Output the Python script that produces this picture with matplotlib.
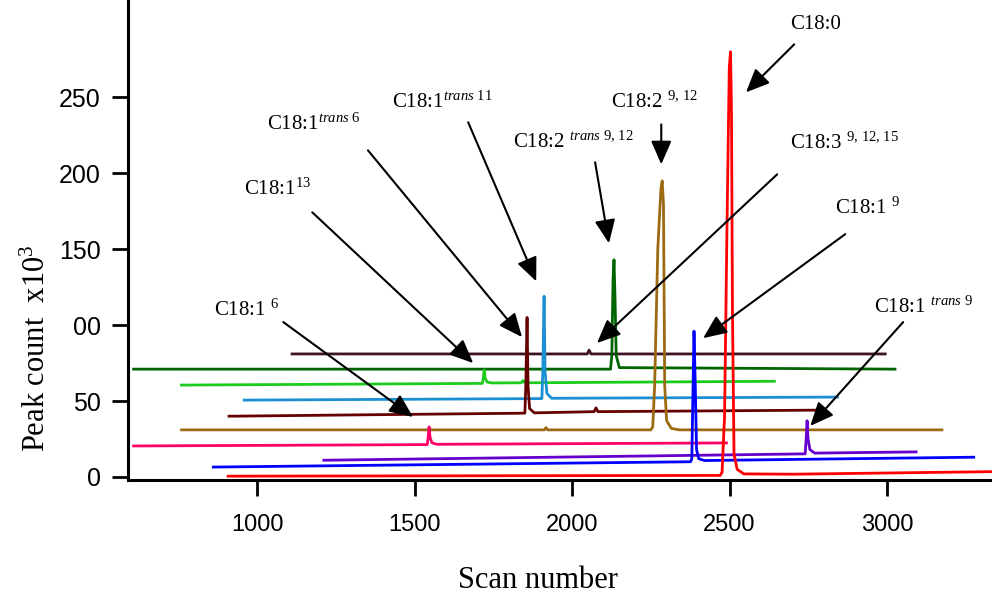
import matplotlib
matplotlib.use('Agg')
import matplotlib.pyplot as plt

plt.rcParams['mathtext.fontset'] = 'custom'
plt.rcParams['mathtext.rm'] = 'Liberation Serif'
plt.rcParams['mathtext.it'] = 'Liberation Serif:italic'

# Chromatogram traces (scan number, peak count x10^3)
red_x = [908, 2470, 2476, 2484, 2492, 2499, 2503, 2506, 2509, 2514, 2524, 2545, 2700, 3340]
red_y = [0.5, 1.0, 3, 40, 170, 270, 280, 240, 110, 15, 5, 2.0, 1.8, 3.5]

blue_x = [861, 2376, 2380, 2384, 2387, 2391, 2395, 2402, 2420, 3275]
blue_y = [6.5, 10.0, 12, 60, 96, 60, 18, 12, 10.8, 13]

purple_x = [1212, 2740, 2743, 2746, 2749, 2755, 2770, 3092]
purple_y = [11, 15.2, 25, 37, 25, 18, 15.7, 16.5]

pink_x = [608, 1540, 1543, 1546, 1549, 1555, 1570, 2490]
pink_y = [20.4, 21.3, 26, 33, 26, 22.5, 21.5, 22.4]

brown_x = [760, 1912, 1917, 1922, 2250, 2256, 2262, 2272, 2282, 2286, 2290, 2294, 2300, 2315, 2340, 3174]
brown_y = [31, 31, 32.5, 31, 31, 33, 60, 150, 190, 195, 180, 60, 37, 32, 31, 31]

maroon_x = [911, 1850, 1853, 1857, 1860, 1865, 1880, 2070, 2076, 2082, 2788]
maroon_y = [40, 42, 60, 105, 60, 45, 42.2, 43, 45.5, 43, 44]

ltblue_x = [959, 1904, 1907, 1911, 1914, 1920, 1935, 2842]
ltblue_y = [50.6, 51.6, 70, 119, 70, 55, 51.8, 52.6]

green_x = [760, 1715, 1718, 1721, 1724, 1730, 1745, 1838, 1844, 1850, 2642]
green_y = [60.5, 61.6, 65, 70.5, 65, 62.5, 61.9, 62.0, 63.5, 62.0, 63]

dkgreen_x = [608, 2122, 2126, 2130, 2133, 2136, 2140, 2150, 3025]
dkgreen_y = [71, 71, 80, 130, 143, 120, 80, 72, 71]

dark_x = [1111, 2048, 2054, 2060, 2994]
dark_y = [81, 81, 83.5, 81, 81]

traces = [
    (dark_x, dark_y, '#3d1426'),
    (dkgreen_x, dkgreen_y, '#006400'),
    (green_x, green_y, '#1ccc1c'),
    (ltblue_x, ltblue_y, '#1b8fd2'),
    (maroon_x, maroon_y, '#660000'),
    (brown_x, brown_y, '#9c6a12'),
    (pink_x, pink_y, '#ff0066'),
    (purple_x, purple_y, '#6600cc'),
    (blue_x, blue_y, '#0000ff'),
    (red_x, red_y, '#ff0000'),
]

# Peak labels: text, text anchor (left, baseline), arrow start, arrow tip
labels = [
    (r'C18:0', (2692, 294.7), (2705, 284.9), (2552, 253.3)),
    (r'C18:2 $^{\text{9, 12}}$', (2124, 243.4), (2283, 232.2), (2283, 205.9)),
    (r'C18:2 $^{\mathit{trans}\text{ 9, 12}}$', (1813, 217.1), (2073, 207.2), (2117, 153.9)),
    (r'C18:1$^{\mathit{trans}\text{ 11}}$', (1429, 243.4), (1670, 233.6), (1886, 128.9)),
    (r'C18:1$^{\mathit{trans}\text{ 6}}$', (1032, 228.9), (1352, 215.1), (1841, 92.1)),
    (r'C18:1$^{13}$', (959, 185.5), (1175, 174.3), (1686, 75.0)),
    (r'C18:1 $^{6}$', (863, 105.9), (1083, 102.0), (1495, 39.5)),
    (r'C18:3 $^{\text{9, 12, 15}}$', (2692, 216.4), (2651, 199.3), (2079, 88.2)),
    (r'C18:1 $^{9}$', (2835, 173.0), (2867, 159.9), (2416, 91.4)),
    (r'C18:1 $^{\mathit{trans}\text{ 9}}$', (2959, 107.9), (3051, 102.0), (2756, 33.6)),
]

x_ticks = [1000, 1500, 2000, 2500, 3000]
y_ticks = [0, 50, 100, 150, 200, 250]
y_tick_labels = ['0', '50', '00', '150', '200', '250']

fig = plt.figure(figsize=(9.92, 6.02), dpi=100)
ax = fig.add_axes([0.129, 0.2027, 0.871, 0.797])

for xs, ys, c in traces:
    ax.plot(xs, ys, color=c, linewidth=2.0, solid_joinstyle='round')

for text, (tx, ty), start, tip in labels:
    ax.text(tx, ty, text, fontsize=15, family='Liberation Serif',
            ha='left', va='baseline')
    ax.annotate('', xy=tip, xytext=start,
                arrowprops=dict(arrowstyle='-|>,head_length=0.8,head_width=0.35',
                                mutation_scale=18, color='black', lw=1.5,
                                shrinkA=0, shrinkB=0))

ax.set_xlim(590, 3333)
ax.set_ylim(-2, 314)
ax.set_xticks(x_ticks)
ax.set_xticklabels([str(t) for t in x_ticks], family='Liberation Sans', fontsize=17)
ax.set_yticks(y_ticks)
ax.set_yticklabels(y_tick_labels, family='Liberation Sans', fontsize=18)
ax.tick_params(axis='y', direction='out', length=11.5, width=2, pad=8)
ax.tick_params(axis='x', direction='out', length=11.5, width=2, pad=13)

for side in ['top', 'right']:
    ax.spines[side].set_visible(False)
for side in ['left', 'bottom']:
    ax.spines[side].set_linewidth(2.2)

ax.set_xlabel('Scan number', family='Liberation Serif', fontsize=22)
ax.set_ylabel(r'Peak count  x10$^{3}$', family='Liberation Serif', fontsize=22)
ax.xaxis.set_label_coords(0.474, -0.18)
ax.yaxis.set_label_coords(-0.088, 0.275)

plt.savefig('out.png', dpi=100)
